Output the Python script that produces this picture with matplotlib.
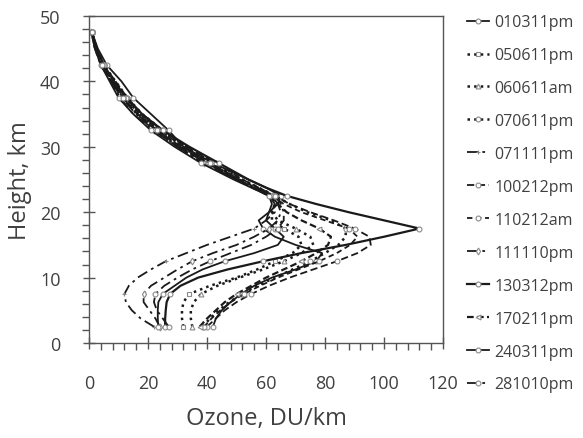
from matplotlib import pyplot as plt
from matplotlib.ticker import MultipleLocator
import numpy as np

plt.rcParams['font.family'] = ['Open Sans', 'DejaVu Sans']

# heights (km), shared by all soundings
height = [2.5, 3.75, 5, 6.25, 7.5, 8.75, 10, 11.25, 12.5, 13.75, 15, 16.25, 17.5,
          18.75, 20, 21.25, 22.5, 23.75, 25, 27.5, 30, 32.5, 35, 37.5, 40, 42.5, 45, 47.5]

# ozone partial density (DU/km)
o3_010311pm = [42, 43, 45, 48, 51.5, 56, 62, 70, 77, 79, 70, 63, 59,
               57.5, 61, 64, 65, 60, 54, 42, 32, 27, 21, 15, 11, 6, 3, 1]
o3_050611pm = [32, 31.5, 31.5, 32, 34, 41, 50, 57, 63, 69, 72, 71, 66,
               62, 62, 63, 62, 56, 50, 39, 30, 23, 17, 12, 8, 4.5, 2.5, 1]
o3_060611am = [35, 34.5, 34.5, 35.5, 38, 43.5, 51, 59, 66, 72, 76, 75, 70,
               64, 62, 63, 63, 57, 51, 41, 32, 24, 17, 12.5, 8, 5, 2.5, 1]
o3_070611pm = [38.5, 41, 44, 47.5, 52, 57, 63, 69, 75, 80, 84.5, 87, 87,
               82, 74, 68, 63, 57.5, 52, 42, 33, 25, 18, 13, 9, 5, 2.5, 1]
o3_071111pm = [22, 17.5, 14.5, 12.5, 12, 13.5, 16.5, 21, 26, 33, 40, 48, 56,
               60, 63, 63, 61, 55.5, 50, 40, 30, 22, 15, 10.5, 7.5, 4, 2, 0.8]
o3_100212pm = [40, 43, 46, 50, 55, 61, 68, 76, 84, 91, 95.5, 95, 90,
               83, 75, 68, 63, 57.5, 52, 43, 33, 25, 18, 13, 9, 5, 2.5, 1]
o3_110212am = [39, 41.5, 44.5, 48, 52.5, 58, 64, 71, 78, 84, 88.5, 91, 88,
               80, 72, 66, 62, 56.5, 51, 41, 32, 24, 17.5, 12.5, 8.5, 5, 2.5, 1]
o3_111110pm = [24, 22.5, 20.5, 18.5, 18.5, 21, 25.5, 30, 35, 42, 50, 56, 61,
               64, 65, 64, 62, 56, 50, 39, 30, 22, 16, 11, 7.5, 4, 2, 0.8]
o3_130312pm = [25.8, 25.8, 26, 26.3, 27.5, 31, 37, 47, 59, 72, 87, 100, 112,
               100, 88, 77, 67, 60, 54, 44, 34, 25, 18, 12.5, 8.5, 5, 2.5, 1]
o3_170211pm = [37.5, 40, 43, 46, 50, 55, 60, 66, 72, 77, 81, 82, 78,
               72, 67, 64, 61, 55.5, 50, 40, 31, 23, 16.5, 11.5, 8, 4.5, 2.5, 1]
o3_240311pm = [23.5, 23.3, 23.3, 23.5, 25, 29, 33, 38.5, 46, 56, 64, 66, 63,
               60, 61, 62, 61, 55, 49, 38, 29, 21, 15, 10, 7, 4, 2, 0.8]
o3_281010pm = [27, 25, 23, 22, 22.5, 25.5, 30, 35, 41, 48, 55, 60, 64,
               66, 66, 65, 63, 57, 51, 41, 31, 23, 16, 11.5, 8, 4.5, 2.5, 1]

series = [("010311pm", o3_010311pm, "-", "o", 1.3),
          ("050611pm", o3_050611pm, ":", "s", 1.8),
          ("060611am", o3_060611am, ":", "^", 1.8),
          ("070611pm", o3_070611pm, ":", "o", 1.8),
          ("071111pm", o3_071111pm, (0, (6, 2.5, 1.5, 2.5)), "+", 1.3),
          ("100212pm", o3_100212pm, (0, (4, 2)), "o", 1.3),
          ("110212am", o3_110212am, (0, (3, 2)), "o", 1.3),
          ("111110pm", o3_111110pm, (0, (6, 2.5, 1.5, 2.5)), "d", 1.3),
          ("130312pm", o3_130312pm, "-", "o", 1.6),
          ("170211pm", o3_170211pm, (0, (3, 1.5)), "<", 1.6),
          ("240311pm", o3_240311pm, "-", "o", 1.3),
          ("281010pm", o3_281010pm, (0, (6, 2.5, 1.5, 2.5)), "o", 1.3)]

# markers every 5 km starting at 2.5 km
mark_idx = [i for i, h in enumerate(height) if (h - 2.5) % 5 == 0]

fig = plt.figure(figsize=(5.83, 4.39), dpi=100)
ax = fig.add_axes([0.1527, 0.2164, 0.6073, 0.7449])

for name, vals, ls, mk, lw in series:
    ax.plot(vals, height, color="#1a1a1a", ls=ls, lw=lw, marker=mk, ms=3.5,
            mfc="white", mec="#8a8a8a", mew=0.8, markevery=mark_idx, label=name)

ax.set_xlim(0, 120)
ax.set_ylim(0, 50)
ax.xaxis.set_major_locator(MultipleLocator(20))
ax.xaxis.set_minor_locator(MultipleLocator(4))
ax.yaxis.set_major_locator(MultipleLocator(10))
ax.yaxis.set_minor_locator(MultipleLocator(2))
ax.tick_params(which="major", direction="inout", length=9, width=1, color="#555555",
               labelsize=13, labelcolor="#404040")
ax.tick_params(which="minor", direction="out", length=5, width=1, color="#555555")
ax.tick_params(axis="x", which="major", pad=18)
ax.tick_params(axis="y", which="major", pad=16)
for s in ax.spines.values():
    s.set_color("#555555")
    s.set_linewidth(1)

ax.set_xlabel("Ozone, DU/km", fontsize=17, color="#404040", labelpad=10)
ax.set_ylabel("Height, km", fontsize=17, color="#404040", labelpad=6)

ax.legend(loc="upper left", bbox_to_anchor=(1.05, 1.025), frameon=False,
          fontsize=11.5, labelcolor="#404040", handlelength=1.35, handletextpad=0.35,
          labelspacing=1.06, borderaxespad=0)

fig.savefig("out.png", dpi=100)
